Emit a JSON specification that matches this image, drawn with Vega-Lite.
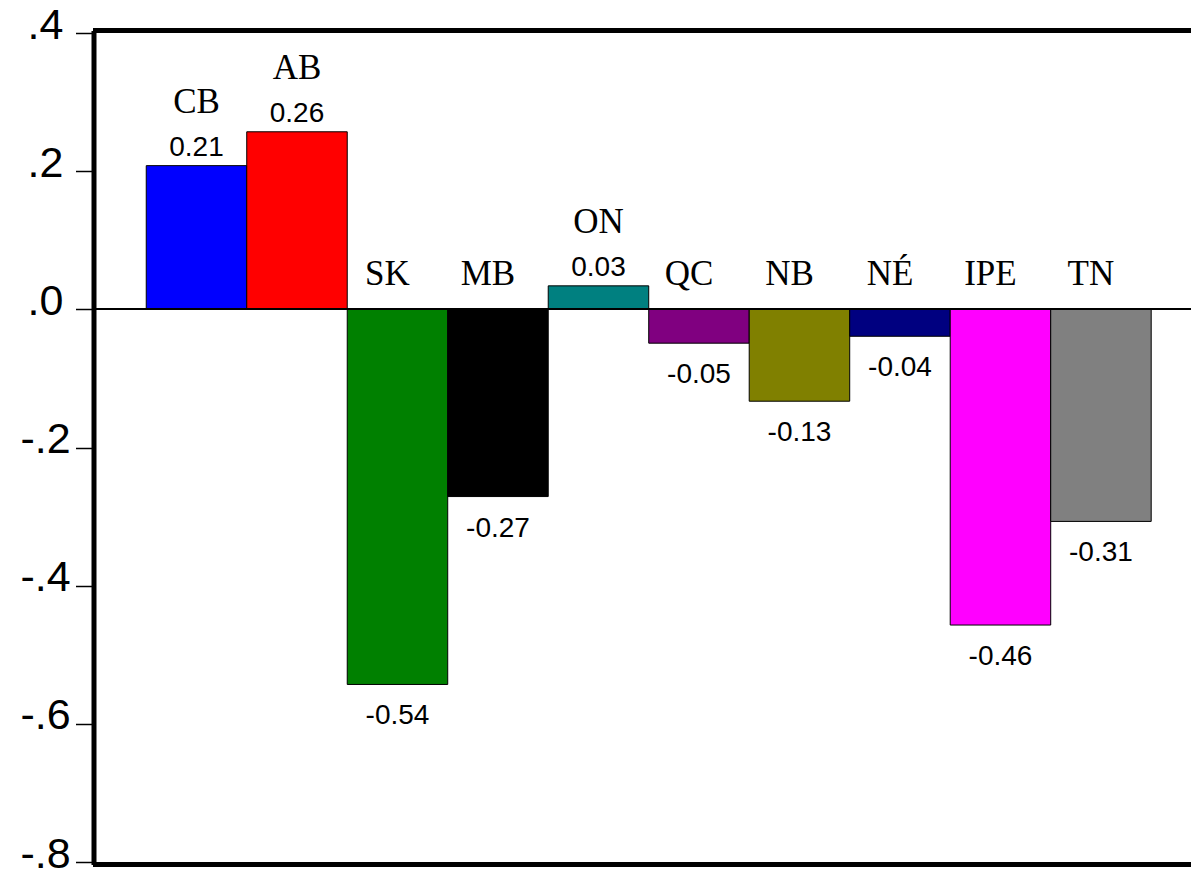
{
  "$schema": "https://vega.github.io/schema/vega-lite/v6.json",
  "autosize": "none",
  "width": 1095,
  "height": 829,
  "padding": {"left": 96, "top": 33, "right": 0, "bottom": 7},
  "background": "white",
  "config": {"view": {"stroke": null}},
  "data": {
    "values": [
      {"name": "CB", "value": 0.208, "label": "0.21"},
      {"name": "AB", "value": 0.257, "label": "0.26"},
      {"name": "SK", "value": -0.543, "label": "-0.54"},
      {"name": "MB", "value": -0.271, "label": "-0.27"},
      {"name": "ON", "value": 0.034, "label": "0.03"},
      {"name": "QC", "value": -0.049, "label": "-0.05"},
      {"name": "NB", "value": -0.133, "label": "-0.13"},
      {"name": "NÉ", "value": -0.039, "label": "-0.04"},
      {"name": "IPE", "value": -0.457, "label": "-0.46"},
      {"name": "TN", "value": -0.307, "label": "-0.31"}
    ]
  },
  "encoding": {
    "x": {
      "field": "name", "type": "nominal", "sort": null, "axis": null,
      "scale": {"paddingInner": 0, "paddingOuter": 0.448, "align": 0.558}
    },
    "y": {
      "field": "value", "type": "quantitative",
      "scale": {"domain": [-0.8, 0.4], "nice": false, "zero": false}
    }
  },
  "layer": [
    {
      "mark": {"type": "bar", "stroke": "black", "strokeWidth": 1},
      "encoding": {
        "y": {
          "field": "value", "type": "quantitative",
          "scale": {"domain": [-0.8, 0.4], "nice": false, "zero": false},
          "axis": {
            "title": null, "grid": false,
            "values": [-0.8, -0.6, -0.4, -0.2, 0, 0.2, 0.4],
            "labelExpr": "replace(replace(format(datum.value, '.1f'), '0.', '.'), '\u2212', '-')",
            "offset": 2.5,
            "domain": true, "domainColor": "black", "domainWidth": 5, "domainCap": "square",
            "ticks": true, "tickColor": "black", "tickWidth": 1.5, "tickSize": 18,
            "labelFont": "Liberation Sans", "labelFontSize": 43, "labelColor": "black",
            "labelAlign": "center", "labelBaseline": "middle", "labelPadding": 30.5,
            "labelOffset": -8, "labelFlush": false, "labelOverlap": false, "labelBound": false
          }
        },
        "y2": {"datum": 0},
        "color": {
          "field": "name", "type": "nominal", "legend": null,
          "scale": {
            "domain": ["CB", "AB", "SK", "MB", "ON", "QC", "NB", "NÉ", "IPE", "TN"],
            "range": ["#0000FF", "#FF0000", "#008000", "#000000", "#008080", "#800080", "#808000", "#000080", "#FF00FF", "#808080"]
          }
        }
      }
    },
    {
      "mark": {"type": "rule", "color": "black", "strokeWidth": 1.5},
      "encoding": {"x": null, "y": {"datum": 0}}
    },
    {
      "mark": {"type": "rule", "color": "black", "strokeWidth": 5, "yOffset": -2.5, "strokeCap": "square"},
      "encoding": {"x": null, "y": {"datum": 0.4}}
    },
    {
      "mark": {"type": "rule", "color": "black", "strokeWidth": 5, "yOffset": 2.5, "strokeCap": "square"},
      "encoding": {"x": null, "y": {"datum": -0.8}}
    },
    {
      "transform": [{"filter": "datum.value > 0"}],
      "mark": {"type": "text", "font": "Liberation Sans", "fontSize": 28, "color": "black", "baseline": "alphabetic", "dy": -10},
      "encoding": {"text": {"field": "label"}}
    },
    {
      "transform": [{"filter": "datum.value < 0"}],
      "mark": {"type": "text", "font": "Liberation Sans", "fontSize": 28, "color": "black", "baseline": "alphabetic", "dy": 40},
      "encoding": {"text": {"field": "label"}}
    },
    {
      "transform": [{"filter": "datum.value > 0"}],
      "mark": {"type": "text", "font": "Liberation Serif", "fontSize": 35, "color": "black", "baseline": "alphabetic", "dy": -53},
      "encoding": {"text": {"field": "name"}}
    },
    {
      "transform": [{"filter": "datum.value < 0"}],
      "mark": {"type": "text", "font": "Liberation Serif", "fontSize": 35, "color": "black", "baseline": "alphabetic", "dy": -24, "dx": -10},
      "encoding": {"text": {"field": "name"}, "y": {"datum": 0}}
    }
  ]
}
